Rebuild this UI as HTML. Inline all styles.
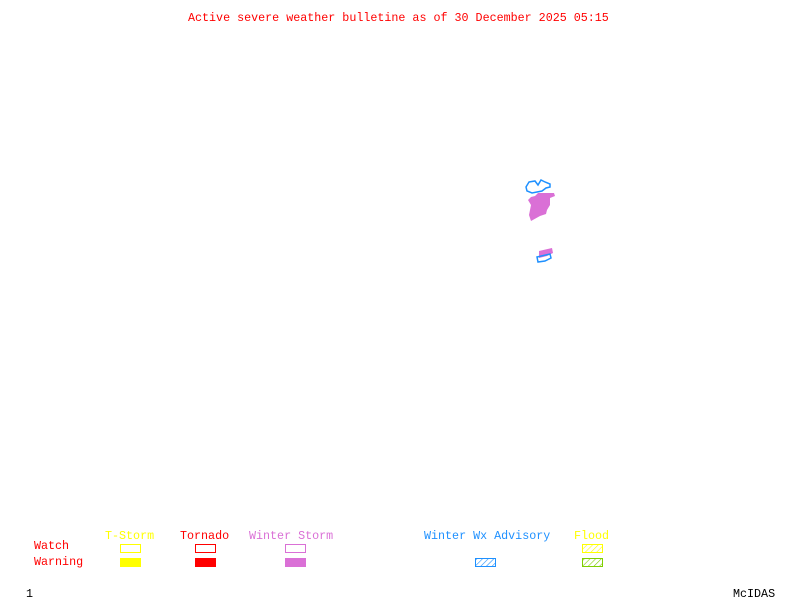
<!DOCTYPE html>
<html><head><meta charset="utf-8"><style>
html,body{margin:0;padding:0;background:#fff;width:800px;height:600px;overflow:hidden}
.t{position:absolute;font-family:"Liberation Mono",monospace;font-size:11.7px;line-height:12px;white-space:pre}
</style></head><body>
<div class="t" style="left:188px;top:12px;color:#f00">Active severe weather bulletine as of 30 December 2025 05:15</div>
<div class="t" style="left:105px;top:530px;color:#ff0">T-Storm</div>
<div class="t" style="left:180px;top:530px;color:#f00">Tornado</div>
<div class="t" style="left:249px;top:530px;color:#da70d6">Winter Storm</div>
<div class="t" style="left:424px;top:530px;color:#1e90ff">Winter Wx Advisory</div>
<div class="t" style="left:574px;top:530px;color:#ff0">Flood</div>
<div class="t" style="left:34px;top:540px;color:#f00">Watch</div>
<div class="t" style="left:34px;top:556px;color:#f00">Warning</div>
<div class="t" style="left:26px;top:588px;color:#000">1</div>
<div class="t" style="left:733px;top:588px;color:#000">McIDAS</div>
<svg width="800" height="600" style="position:absolute;left:0;top:0">
<defs>
<pattern id="hb" width="4" height="4" patternUnits="userSpaceOnUse" patternTransform="rotate(45)"><line x1="0" y1="0" x2="0" y2="4" stroke="#1e90ff" stroke-width="1.2"/></pattern>
<pattern id="hy" width="4" height="4" patternUnits="userSpaceOnUse" patternTransform="rotate(45)"><line x1="0" y1="0" x2="0" y2="4" stroke="#ff0" stroke-width="1.2"/></pattern>
<pattern id="hg" width="4" height="4" patternUnits="userSpaceOnUse" patternTransform="rotate(45)"><line x1="0" y1="0" x2="0" y2="4" stroke="#7fcf00" stroke-width="1.2"/></pattern>
</defs>
<g stroke-width="1" shape-rendering="crispEdges">
<rect x="120.5" y="544.5" width="20" height="8" fill="none" stroke="#ff0"/>
<rect x="120" y="558" width="21" height="9" fill="#ff0"/>
<rect x="195.5" y="544.5" width="20" height="8" fill="none" stroke="#f00"/>
<rect x="195" y="558" width="21" height="9" fill="#f00"/>
<rect x="285.5" y="544.5" width="20" height="8" fill="none" stroke="#da70d6"/>
<rect x="285" y="558" width="21" height="9" fill="#da70d6"/>
<rect x="475.5" y="558.5" width="20" height="8" fill="url(#hb)" stroke="#1e90ff"/>
<rect x="582.5" y="544.5" width="20" height="8" fill="url(#hy)" stroke="#ff0"/>
<rect x="582.5" y="558.5" width="20" height="8" fill="url(#hg)" stroke="#7fcf00"/>
</g>
<polygon points="538,193 554,193 555,196 550,198 550,205 547,210 546,214 540,216 531,221 529,215 531,205 528,200 531,197 535,196" fill="#da70d6"/>
<polygon points="539,251 552,248 553,253 547,256 539,258" fill="#da70d6"/>
<path d="M529,182 L535,181 538,185 541,180 545,182 550,184 550,187 546,188 542,191 537,192 532,193 527,191 526,187 Z" fill="none" stroke="#1e90ff" stroke-width="1.5"/>
<path d="M537,257 L550,254 551,258 545,261 538,262 Z" fill="none" stroke="#1e90ff" stroke-width="1.5"/>
</svg>
</body></html>
